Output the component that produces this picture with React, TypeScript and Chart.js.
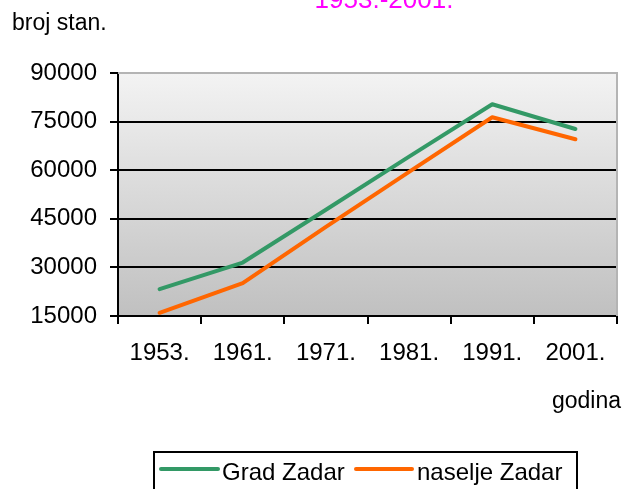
import React, { useEffect, useRef } from "react";
import { Chart, registerables } from "chart.js";

Chart.register(...registerables);

const years = ["1953.", "1961.", "1971.", "1981.", "1991.", "2001."];
const gradZadar = [23300, 31500, 47800, 64200, 80355, 72718];
const naseljeZadar = [16000, 25132, 42500, 59500, 76343, 69556];
const seriesNames = ["Grad Zadar", "naselje Zadar"];
const titleText = "1953.-2001.";
const yAxisTitle = "broj stan.";
const xAxisTitle = "godina";

const FONT = '"Liberation Sans", Arial, sans-serif';

const decorPlugin = {
  id: "decor",
  beforeDraw(chart: any) {
    const { ctx, chartArea: a } = chart;
    ctx.save();
    const g = ctx.createLinearGradient(0, a.top, 0, a.bottom);
    g.addColorStop(0, "#f3f3f3");
    g.addColorStop(1, "#c0c0c0");
    ctx.fillStyle = g;
    ctx.fillRect(a.left, a.top, a.right - a.left, a.bottom - a.top);
    ctx.restore();
  },
  beforeDatasetsDraw(chart: any) {
    const { ctx, chartArea: a } = chart;
    ctx.save();
    ctx.strokeStyle = "#b4b4b4";
    ctx.lineWidth = 2;
    ctx.beginPath();
    ctx.moveTo(a.left, a.top);
    ctx.lineTo(a.right, a.top);
    ctx.lineTo(a.right, a.bottom);
    ctx.stroke();
    ctx.restore();
  },
  afterDraw(chart: any) {
    const { ctx } = chart;
    ctx.save();
    // title (cut at top)
    ctx.fillStyle = "#ff00ff";
    ctx.font = `26px ${FONT}`;
    ctx.textAlign = "center";
    ctx.textBaseline = "alphabetic";
    ctx.fillText(titleText, 384, 7.5);
    // axis titles
    ctx.fillStyle = "#000";
    ctx.font = `23px ${FONT}`;
    ctx.textAlign = "left";
    ctx.fillText(yAxisTitle, 12, 30);
    ctx.textAlign = "right";
    ctx.fillText(xAxisTitle, 621, 408);
    // legend
    const bx = 154, by = 452, bw = 423;
    ctx.strokeStyle = "#000";
    ctx.lineWidth = 2;
    ctx.strokeRect(bx, by, bw, 60);
    ctx.font = `24px ${FONT}`;
    const ds = chart.data.datasets;
    const items = [
      { x0: 161, x1: 218, tx: 222 },
      { x0: 356, x1: 412, tx: 417 },
    ];
    ds.forEach((d: any, i: number) => {
      const it = items[i];
      ctx.strokeStyle = d.borderColor;
      ctx.lineWidth = 4;
      ctx.lineCap = "round";
      ctx.beginPath();
      ctx.moveTo(it.x0, 469);
      ctx.lineTo(it.x1, 469);
      ctx.stroke();
      ctx.fillStyle = "#000";
      ctx.textAlign = "left";
      ctx.fillText(d.label, it.tx, 480);
    });
    ctx.restore();
  },
};

export default function App() {
  const ref = useRef<HTMLCanvasElement>(null);
  useEffect(() => {
    document.body.style.margin = "0";
    const chart = new Chart(ref.current!, {
      type: "line",
      data: {
        labels: years,
        datasets: [
          {
            label: seriesNames[0],
            data: gradZadar,
            borderColor: "#339966",
            borderWidth: 4,
            pointRadius: 0,
            tension: 0,
            borderCapStyle: "round",
            borderJoinStyle: "round",
          },
          {
            label: seriesNames[1],
            data: naseljeZadar,
            borderColor: "#ff6600",
            borderWidth: 4,
            pointRadius: 0,
            tension: 0,
            borderCapStyle: "round",
            borderJoinStyle: "round",
          },
        ],
      },
      options: {
        animation: false,
        responsive: false,
        maintainAspectRatio: false,
        layout: { padding: { top: 73, right: 7, left: 0, bottom: 0 } },
        plugins: { legend: { display: false }, tooltip: { enabled: false }, title: { display: false } },
        scales: {
          x: {
            offset: true,
            grid: {
              offset: true,
              drawOnChartArea: false,
              color: "#000",
              lineWidth: 2,
              tickLength: 8,
            },
            border: { color: "#000", width: 2 },
            ticks: {
              color: "#000",
              font: { family: FONT, size: 24 },
              padding: 15,
              maxRotation: 0,
              autoSkip: false,
            },
            afterFit: (s: any) => {
              s.height = 489 - 316;
            },
          },
          y: {
            min: 15000,
            max: 90000,
            grid: {
              color: (c: any) => (c.tick && (c.tick.value === 90000 || c.tick.value === 15000) ? "rgba(0,0,0,0)" : "#000"),
              tickColor: "#000",
              lineWidth: 2,
              tickLength: 8,
            },
            border: { color: "#000", width: 2 },
            ticks: {
              stepSize: 15000,
              color: "#000",
              font: { family: FONT, size: 24 },
              padding: 13,
              callback: (v: any) => String(v),
            },
            afterFit: (s: any) => {
              s.width = 118;
            },
          },
        },
      },
      plugins: [decorPlugin],
    });
    return () => chart.destroy();
  }, []);
  return (
    <div style={{ position: "absolute", left: 0, top: 0, width: 624, height: 489, background: "#fff" }}>
      <canvas ref={ref} width={624} height={489} style={{ width: 624, height: 489 }} />
    </div>
  );
}
